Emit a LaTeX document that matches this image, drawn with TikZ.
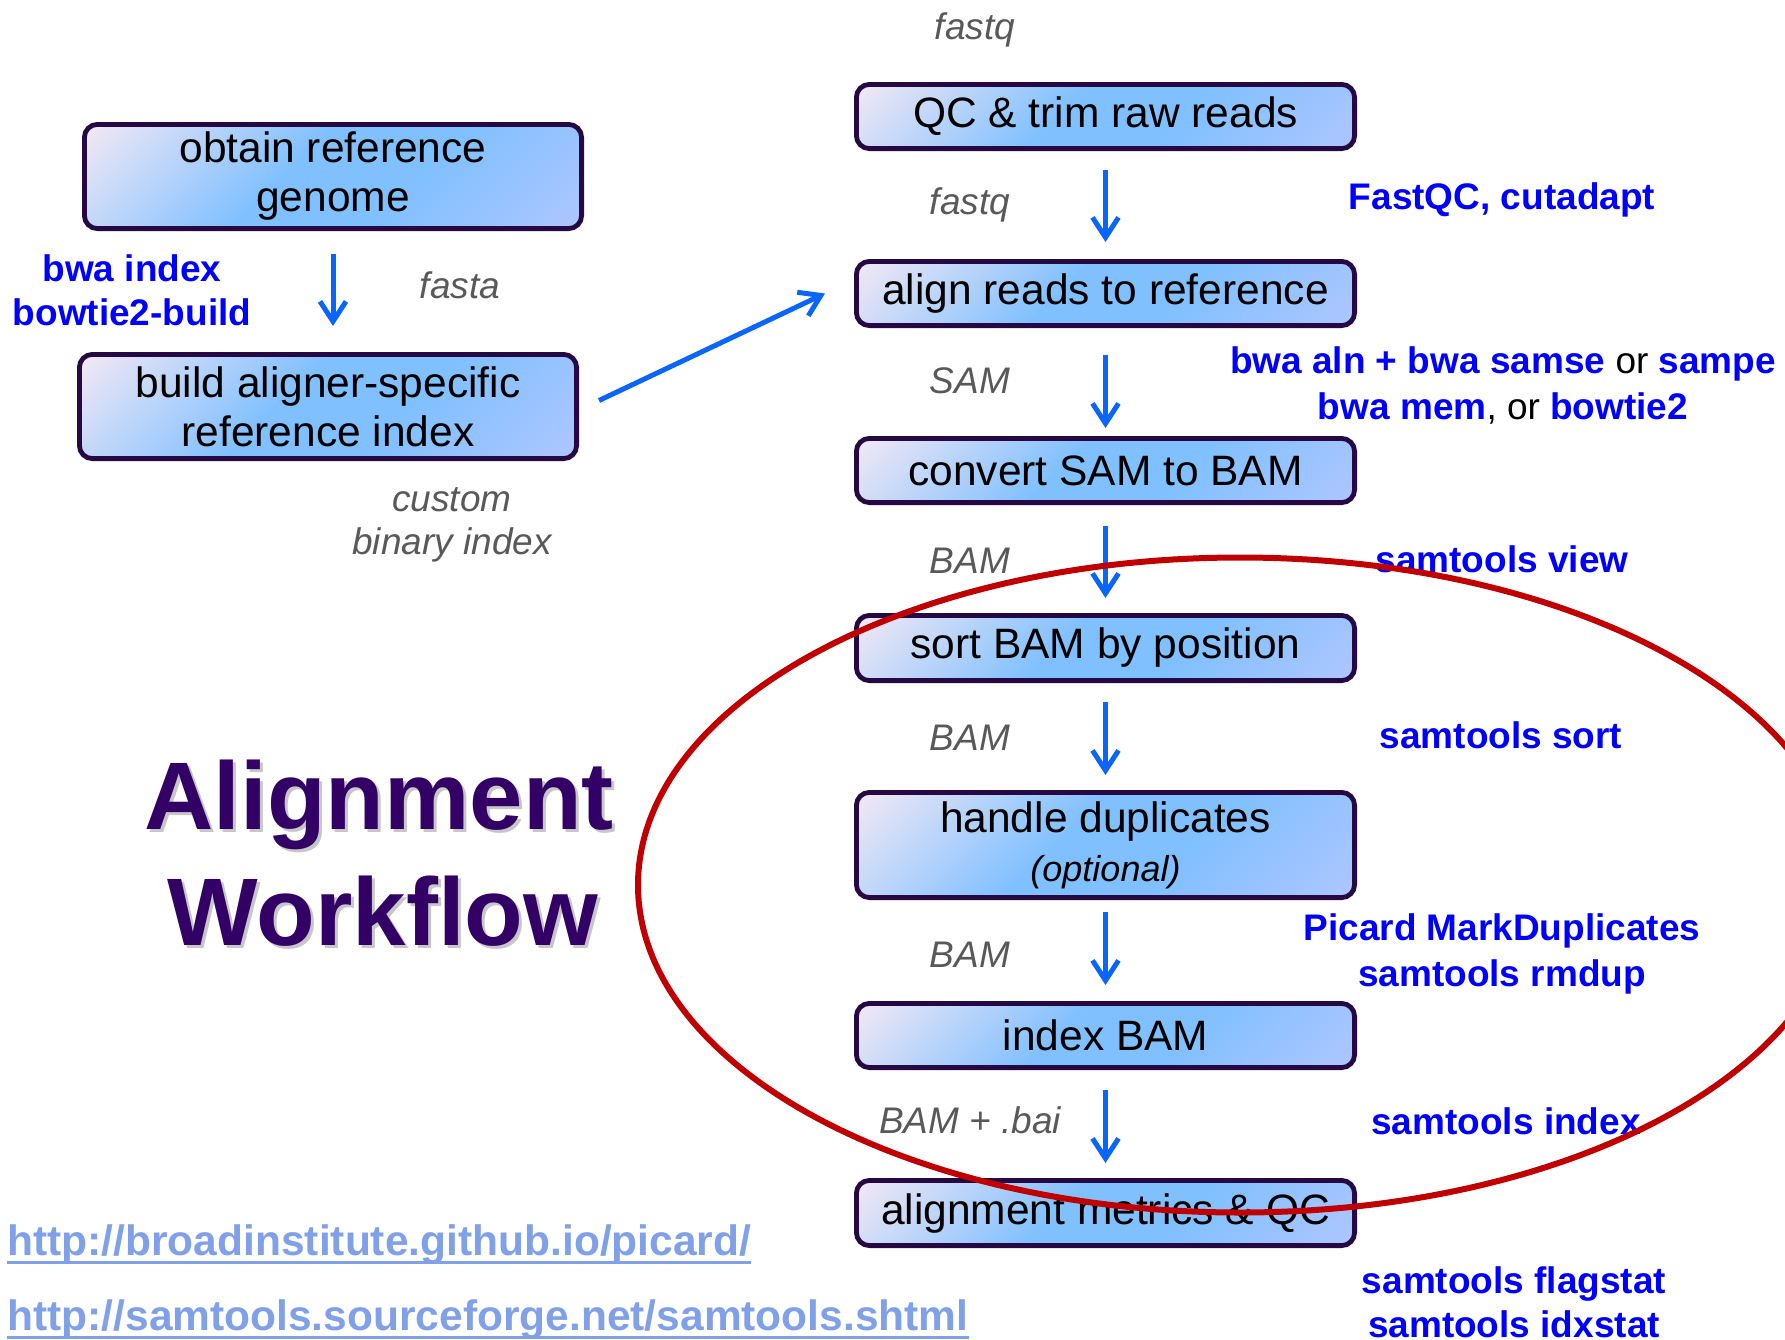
\documentclass[tikz,border=0pt]{standalone}
\usepackage{fontspec}
\setmainfont{Liberation Sans}
\usetikzlibrary{arrows.meta,calc}
\definecolor{blav}{RGB}{242,232,244}
\definecolor{bblue}{RGB}{128,192,255}
\definecolor{bperi}{RGB}{174,198,255}
\definecolor{bordc}{RGB}{38,8,66}
\definecolor{arrc}{RGB}{10,102,250}
\definecolor{toolc}{RGB}{0,0,255}
\definecolor{labc}{RGB}{89,89,89}
\definecolor{titc}{RGB}{51,0,102}
\definecolor{urlc}{RGB}{128,160,232}
\definecolor{ellc}{RGB}{192,0,0}
\pgfdeclareverticalshading{boxshade}{100bp}{color(0bp)=(bperi); color(15bp)=(bperi); color(40bp)=(bblue); color(56bp)=(bblue); color(85bp)=(blav); color(100bp)=(blav)}
\begin{document}
\begin{tikzpicture}[x=0.5pt,y=-0.5pt,
  stepbox/.style={draw=bordc, line width=2.4pt, rounded corners=6.5pt, shade, shading=boxshade, shading angle=45,
    minimum width=249.1pt, minimum height=32.1pt, inner sep=0pt, align=center, text=black,
    font=\fontsize{21.25}{24.5}\selectfont},
  flow/.style={draw=arrc, line width=2.5pt, -{Straight Barb[length=10pt,width=13pt,line width=2.5pt]}},
  lab/.style={text=labc, font=\fontsize{18.5}{21}\selectfont\itshape, inner sep=0pt, align=center},
  tool/.style={text=toolc, font=\fontsize{18.5}{22}\selectfont\bfseries, inner sep=0pt, align=center},
  title/.style={text=titc, font=\fontsize{48}{58}\selectfont\bfseries, inner sep=0pt, anchor=base},
  tshadow/.style={text=black!22, font=\fontsize{48}{58}\selectfont\bfseries, inner sep=0pt, anchor=base},
  urltext/.style={text=urlc, font=\fontsize{21.25}{25}\selectfont\bfseries, inner sep=0pt, anchor=base west},
  uline/.style={draw=urlc, line width=1.5pt},
  ring/.style={draw=ellc, line width=3pt}
]
\useasboundingbox (0,0) rectangle (1785,1340);
\clip (0,0) rectangle (1785,1340);
\fill[white] (0,0) rectangle (1785,1340);

% right column boxes
\node[stepbox] (qc) at (1105.5,116.5) {QC \& trim raw reads};
\node[stepbox] (align) at (1105.5,293.5) {align reads to reference};
\node[stepbox] (convert) at (1105.5,470.5) {convert SAM to BAM};
\node[stepbox, minimum height=32.6pt] (sort) at (1105.5,648) {sort BAM by position};
\node[stepbox, minimum height=52.6pt] (dup) at (1105.5,845) {handle duplicates\\{\fontsize{18}{24}\selectfont\itshape (optional)}};
\node[stepbox] (index) at (1105.5,1035.5) {index BAM};
\node[stepbox, minimum height=32.6pt] (metrics) at (1105.5,1213) {alignment metrics \& QC};

% left boxes
\node[stepbox, minimum width=248.6pt, minimum height=52.1pt] (obtain) at (333,176.5) {obtain reference\\genome};
\node[stepbox, minimum width=248.6pt, minimum height=52.1pt] (build) at (328,406.5) {build aligner-specific\\reference index};

% arrows
\draw[flow] ($(qc.south)+(0,19)$) -- ($(align.north)+(0,-17)$);
\draw[flow] ($(align.south)+(0,27)$) -- ($(convert.north)+(0,-8)$);
\draw[flow] ($(convert.south)+(0,21)$) -- ($(sort.north)+(0,-15)$);
\draw[flow] ($(sort.south)+(0,19)$) -- ($(dup.north)+(0,-15)$);
\draw[flow] ($(dup.south)+(0,12)$) -- ($(index.north)+(0,-16)$);
\draw[flow] ($(index.south)+(0,20)$) -- ($(metrics.north)+(0,-15)$);
\draw[flow] ($(obtain.south)+(0,23)$) -- ($(build.north)+(5,-26)$);
\draw[flow] ($(build.east)+(20,-6)$) -- ($(align.west)+(-29,0)$);

% data labels
\node[lab] (l0) at (975,29.5) {fastq};
\node[lab] (l1) at (970,205) {fastq};
\node[lab] (l2) at (970,381) {SAM};
\node[lab] (l3) at (970,560.5) {BAM};
\node[lab] (l4) at (970,737.5) {BAM};
\node[lab] (l5) at (970,954.5) {BAM};
\node[lab] (l6) at (970,1120.5) {BAM + .bai};
\node[lab] (lfa) at (460,285) {fasta};
\node[lab, anchor=base, font=\fontsize{18.5}{21.5}\selectfont\itshape] (lcu) at (452,554) {custom\\binary index};

% tool labels
\node[tool, anchor=base] (tidx) at (132,325) {bwa index\\bowtie2-build};
\node[tool] (tfq) at (1502,199.5) {FastQC, cutadapt};
\node[tool, anchor=base, font=\fontsize{18.5}{23}\selectfont\bfseries] (tbwa) at (1503,419) {bwa aln + bwa samse {\mdseries\color{black}or} sampe\\bwa mem{\mdseries\color{black}, or} bowtie2};
\node[tool] (tview) at (1502,559.5) {samtools view};
\node[tool] (tsort) at (1501,735.5) {samtools sort};
\node[tool, anchor=base, font=\fontsize{18.5}{23}\selectfont\bfseries] (tdup) at (1502,986) {Picard MarkDuplicates\\samtools rmdup};
\node[tool] (tindex) at (1506,1121) {samtools index};
\node[tool, anchor=base] (tstat) at (1514,1337) {samtools flagstat\\samtools idxstat};

% title
\node[tshadow] (ts1) at (382,832) {Alignment};
\node[tshadow] (ts2) at (386,948) {Workflow};
\node[title] (t1) at (379,829) {Alignment};
\node[title] (t2) at (383,945) {Workflow};

% urls
\node[urltext] (u1) at (7,1255) {http://broadinstitute.github.io/picard/};
\node[urltext] (u2) at (7,1330) {http://samtools.sourceforge.net/samtools.shtml};
\draw[uline] ($(u1.base west)+(0,7)$) -- ($(u1.base east)+(0,7)$);
\draw[uline] ($(u2.base west)+(0,7)$) -- ($(u2.base east)+(0,7)$);

% red ellipse
\draw[ring] (1240,885) ellipse [x radius=602, y radius=327.5];
\end{tikzpicture}
\end{document}
